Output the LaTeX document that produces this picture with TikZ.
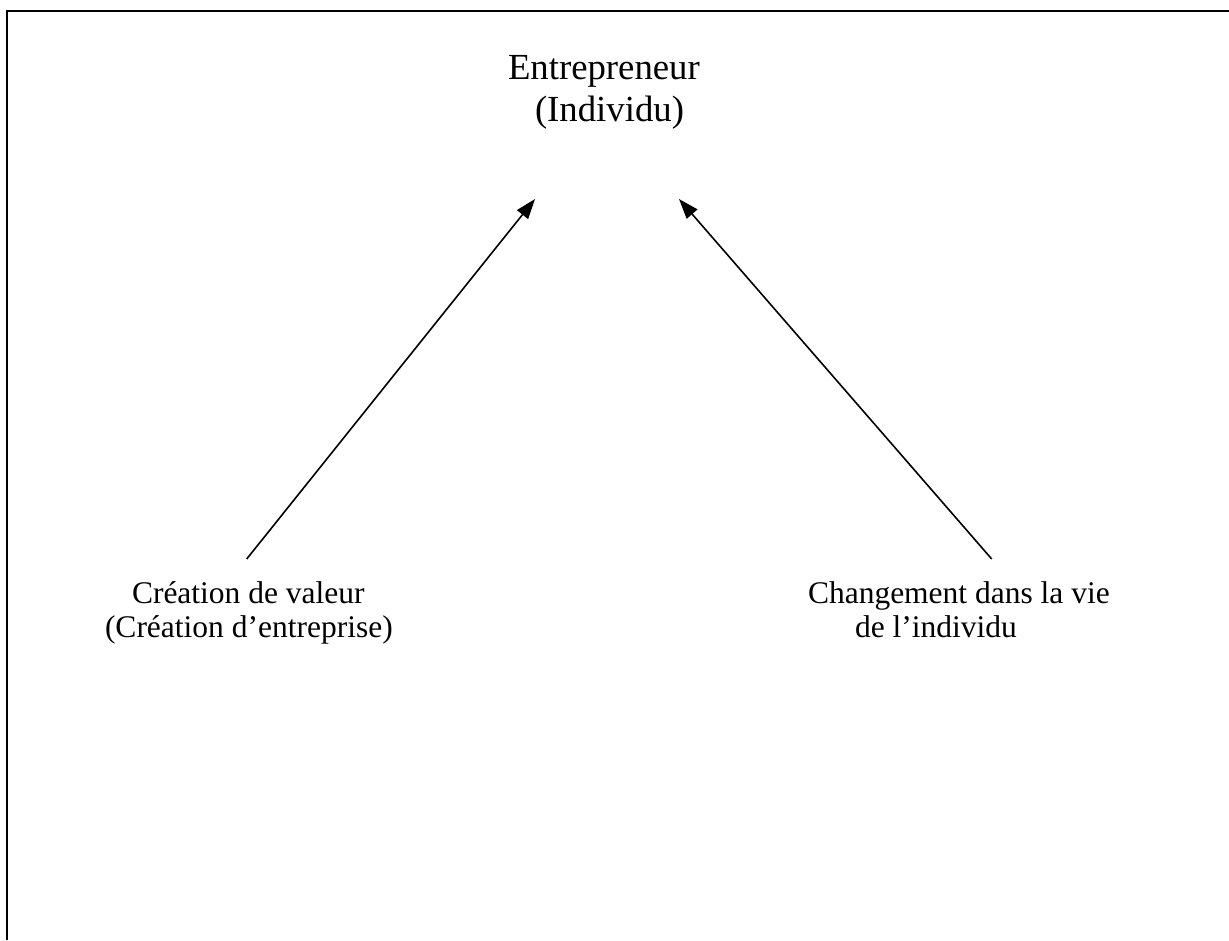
\documentclass[tikz,border=0pt]{standalone}
\usepackage{fontspec}
\setmainfont{Liberation Serif}
\usetikzlibrary{arrows.meta}
\tikzset{
  lbl/.style={anchor=base west, inner sep=0pt, outer sep=0pt},
  toplbl/.style={lbl, font=\fontsize{36.75}{44}\selectfont},
  sidelbl/.style={lbl, font=\fontsize{31.5}{38}\selectfont},
  link/.style={line width=1.6pt, -{Triangle[length=20pt, width=14pt]}},
  frame/.style={line width=2.5pt}
}
\begin{document}
\begin{tikzpicture}[x=1pt, y=-1pt]
  \useasboundingbox (0,0) rectangle (1229,940);
  % open frame: left and top edges only
  \draw[frame] (7,940) -- (7,11) -- (1229,11);

  % labels
  \node[toplbl] (ent1) at (508,79) {Entrepreneur};
  \node[toplbl] (ent2) at (535,121) {(Individu)};
  \node[sidelbl] (cv1) at (132,603) {Création de valeur};
  \node[sidelbl] (cv2) at (105,637) {(Création d’entreprise)};
  \node[sidelbl] (ch1) at (808,603) {Changement dans la vie};
  \node[sidelbl] (ch2) at (855,637) {de l’individu};

  % arrow ends
  \coordinate (lstart) at (246.7,559);
  \coordinate (ltip) at (535,199);
  \coordinate (rstart) at (991.7,559);
  \coordinate (rtip) at (679,199);

  \draw[link] (lstart) -- (ltip);
  \draw[link] (rstart) -- (rtip);
\end{tikzpicture}
\end{document}
